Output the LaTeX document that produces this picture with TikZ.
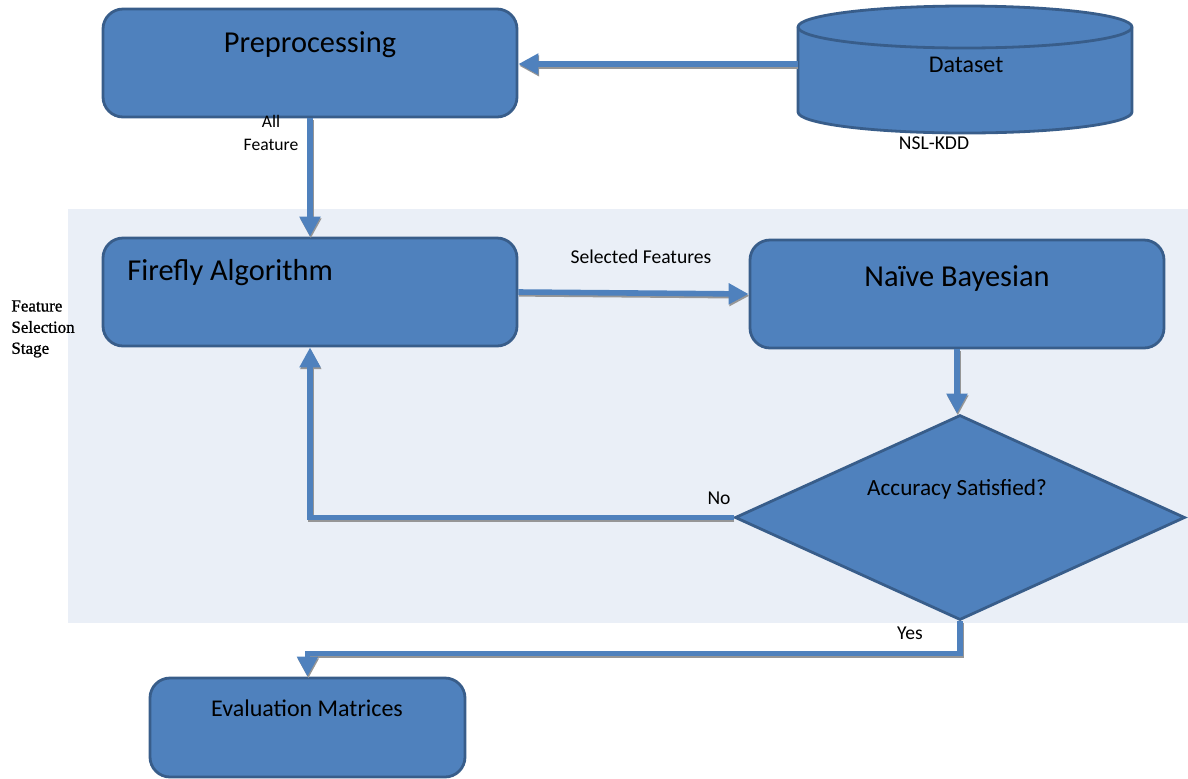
\documentclass[tikz,border=0pt]{standalone}
\usepackage{fontspec}
\setmainfont{Carlito}
\newfontfamily\stagefont[FakeBold=1]{Liberation Serif}
\usetikzlibrary{arrows.meta,shapes.geometric}
\definecolor{boxfill}{RGB}{79,129,189}
\definecolor{boxedge}{RGB}{56,93,138}
\definecolor{bgc}{RGB}{234,239,247}
\definecolor{shadowc}{RGB}{150,150,150}
\tikzset{
  procbox/.style={draw=boxedge, fill=boxfill, line width=1.4pt, rounded corners=10pt, inner sep=0pt},
  flow/.style={draw=boxfill, line width=2.8pt, -{Triangle[width=10pt,length=10pt]},
    preaction={draw=shadowc, line width=2.8pt, transform canvas={shift={(0.4pt,-0.9pt)}}}},
  bigtxt/.style={font=\fontsize{15.2pt}{18pt}\selectfont, text=black, inner sep=0pt},
  midtxt/.style={font=\fontsize{12pt}{14pt}\selectfont, text=black, inner sep=0pt},
  smalltxt/.style={font=\fontsize{9.8pt}{12pt}\selectfont, text=black, inner sep=0pt},
  stagetxt/.style={font=\stagefont\fontsize{8.5pt}{10pt}\selectfont, text=black, inner sep=0pt, anchor=west},
}
\begin{document}
\begin{tikzpicture}[x=0.5pt, y=-0.5pt]
\useasboundingbox (0,0) rectangle (1188,778);
% shaded stage
\fill[bgc] (68,209) rectangle (1188,623);
% boxes
\node[procbox, minimum width=207pt, minimum height=54pt] (pre) at (310,63) {};
\node[procbox, minimum width=207pt, minimum height=54pt] (fire) at (310,292) {};
\node[procbox, minimum width=207pt, minimum height=54pt] (nb) at (957,294) {};
\node[procbox, minimum width=157.5pt, minimum height=49.5pt] (eval) at (307.5,727.5) {};
\node[draw=boxedge, fill=boxfill, line width=1.4pt, diamond, aspect=2.2, minimum width=225pt, minimum height=102.5pt, inner sep=0pt] (dia) at (960,517.5) {};
% cylinder
\draw[draw=boxedge, fill=boxfill, line width=1.4pt]
  (798,27) -- (798,112) arc[start angle=180, end angle=360, x radius=83.5pt, y radius=10.5pt]
  -- (1132,27) arc[start angle=0, end angle=180, x radius=83.5pt, y radius=10.5pt] -- cycle;
\draw[draw=boxedge, line width=1.4pt] (798,27) arc[start angle=180, end angle=360, x radius=83.5pt, y radius=10.5pt];
\node[minimum width=167pt, minimum height=64pt, inner sep=0pt] (ds) at (965,64) {};
% connectors
\draw[flow] (ds.west) -- (ds.west -| pre.east);
\draw[flow] (pre.south) -- (fire.north);
\draw[flow] (fire.east) -- (nb.west);
\draw[flow] (nb.south) -- (nb.south |- dia.north);
\draw[flow] (dia.west) -| (fire.south);
\draw[flow] (dia.south) -- ++(0,32) -| (eval.north);
% texts
\node[bigtxt] (preT) at (310,45) {Preprocessing};
\node[midtxt] (dsT) at (966,65) {Dataset};
\node[smalltxt] (nslT) at (934,143) {NSL-KDD};
\node[smalltxt, font=\fontsize{8.8pt}{10pt}\selectfont] (allT) at (271,121) {All};
\node[smalltxt, font=\fontsize{8.8pt}{10pt}\selectfont] (featT) at (271,145) {Feature};
\node[bigtxt, anchor=west] (fireT) at (127,273) {Firefly Algorithm};
\node[smalltxt] (selT) at (641,257) {Selected Features};
\node[bigtxt] (nbT) at (957,278) {Naïve Bayesian};
\node[stagetxt] (st1) at (11,306) {Feature};
\node[stagetxt] (st2) at (11,327) {Selection};
\node[stagetxt] (st3) at (11,350) {Stage};
\node[midtxt, font=\fontsize{11.6pt}{14pt}\selectfont] (accT) at (957,489) {Accuracy Satisfied?};
\node[smalltxt] (noT) at (719,498) {No};
\node[smalltxt] (yesT) at (910,633) {Yes};
\node[midtxt] (evT) at (307,708) {Evaluation Matrices};
\end{tikzpicture}
\end{document}
